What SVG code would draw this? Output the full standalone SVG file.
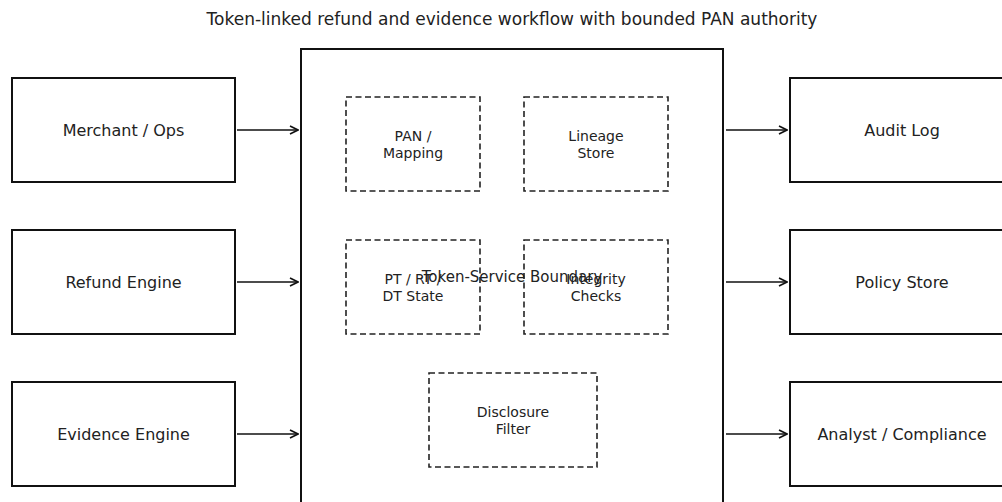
<svg xmlns="http://www.w3.org/2000/svg" width="1002" height="502" viewBox="0 0 1002 502">
<defs>
<marker id="arr" viewBox="0 0 10 10" refX="9" refY="5" markerWidth="10" markerHeight="10" markerUnits="userSpaceOnUse" orient="auto">
<path d="M1,1 L9,5 L1,9" fill="none" stroke="#111" stroke-width="1.6"/>
</marker>
<style>
.box{fill:#fff;stroke:#111;stroke-width:2}
.inner{fill:none;stroke:#222;stroke-width:1.6;stroke-dasharray:6 3.5}
.lbl{font-family:"DejaVu Sans",sans-serif;font-size:16px;fill:#222;text-anchor:middle;dominant-baseline:central}
.blbl{font-family:"DejaVu Sans",sans-serif;font-size:15px;fill:#222;text-anchor:middle;dominant-baseline:central}
.ilbl{font-family:"DejaVu Sans",sans-serif;font-size:14px;fill:#222;text-anchor:middle;dominant-baseline:central}
.title{font-family:"DejaVu Sans",sans-serif;font-size:17px;fill:#222;text-anchor:middle}
.conn{stroke:#111;stroke-width:1.6;fill:none;marker-end:url(#arr)}
</style>
</defs>
<rect width="1002" height="502" fill="#fff"/>
<text class="title" x="512" y="25">Token-linked refund and evidence workflow with bounded PAN authority</text>
<g id="boundary">
<rect class="box" x="301" y="49" width="422" height="458"/>
<text class="blbl" x="512" y="277">Token-Service Boundary</text>
</g>
<g id="pan-mapping">
<rect class="inner" x="346" y="97" width="134" height="94"/>
<text class="ilbl" x="413" y="135.5">PAN /</text>
<text class="ilbl" x="413" y="152.5">Mapping</text>
</g>
<g id="lineage-store">
<rect class="inner" x="524" y="97" width="144" height="94"/>
<text class="ilbl" x="596" y="135.5">Lineage</text>
<text class="ilbl" x="596" y="152.5">Store</text>
</g>
<g id="pt-rt">
<rect class="inner" x="346" y="240" width="134" height="94"/>
<text class="ilbl" x="413" y="278.5">PT / RT /</text>
<text class="ilbl" x="413" y="295.5">DT State</text>
</g>
<g id="integrity">
<rect class="inner" x="524" y="240" width="144" height="94"/>
<text class="ilbl" x="596" y="278.5">Integrity</text>
<text class="ilbl" x="596" y="295.5">Checks</text>
</g>
<g id="disclosure">
<rect class="inner" x="429" y="373" width="168" height="94"/>
<text class="ilbl" x="513" y="411.5">Disclosure</text>
<text class="ilbl" x="513" y="428.5">Filter</text>
</g>
<g id="merchant-ops">
<rect class="box" x="12" y="78" width="223" height="104"/>
<text class="lbl" x="123.5" y="130">Merchant / Ops</text>
</g>
<g id="refund-engine">
<rect class="box" x="12" y="230" width="223" height="104"/>
<text class="lbl" x="123.5" y="282">Refund Engine</text>
</g>
<g id="evidence-engine">
<rect class="box" x="12" y="382" width="223" height="104"/>
<text class="lbl" x="123.5" y="434">Evidence Engine</text>
</g>
<g id="audit-log">
<rect class="box" x="790" y="78" width="224" height="104"/>
<text class="lbl" x="902" y="130">Audit Log</text>
</g>
<g id="policy-store">
<rect class="box" x="790" y="230" width="224" height="104"/>
<text class="lbl" x="902" y="282">Policy Store</text>
</g>
<g id="analyst-compliance">
<rect class="box" x="790" y="382" width="224" height="104"/>
<text class="lbl" x="902" y="434">Analyst / Compliance</text>
</g>
<g id="connectors">
<line class="conn" x1="237" y1="130" x2="298" y2="130"/>
<line class="conn" x1="237" y1="282" x2="298" y2="282"/>
<line class="conn" x1="237" y1="434" x2="298" y2="434"/>
<line class="conn" x1="726" y1="130" x2="787" y2="130"/>
<line class="conn" x1="726" y1="282" x2="787" y2="282"/>
<line class="conn" x1="726" y1="434" x2="787" y2="434"/>
</g>
</svg>
